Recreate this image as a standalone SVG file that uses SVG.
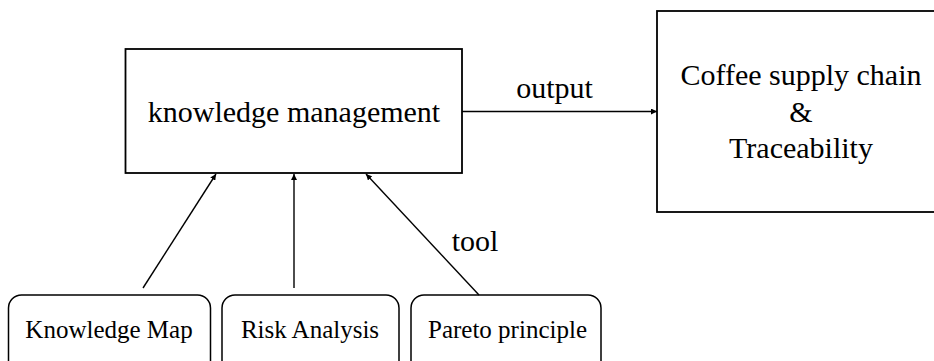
<svg xmlns="http://www.w3.org/2000/svg" width="934" height="361" viewBox="0 0 934 361">
<style>
.box{fill:#fff;stroke:#000;stroke-width:1.8}
.rbox{fill:#fff;stroke:#000;stroke-width:1.5}
.t{font-family:"Liberation Serif","Times New Roman",serif;fill:#000;text-anchor:middle}
.big{font-size:30px}
.small{font-size:25px}
.conn{stroke:#000;stroke-width:1.4;fill:none;marker-end:url(#ah)}
</style>
<defs>
<marker id="ah" viewBox="0 0 10 10" refX="10" refY="5" markerWidth="6" markerHeight="6" markerUnits="userSpaceOnUse" orient="auto">
<path d="M0,0 L10,5 L0,10 Z" fill="#000"/>
</marker>
</defs>
<rect width="934" height="361" fill="#fff"/>
<g id="km">
<rect class="box" x="125.5" y="49" width="336.5" height="124"/>
<text class="t big" x="294" y="122">knowledge management</text>
</g>
<g id="coffee">
<rect class="box" x="657" y="11" width="300" height="201"/>
<text class="t big" x="801" y="85">Coffee supply chain</text>
<text class="t big" x="801" y="122">&amp;</text>
<text class="t big" x="801" y="158">Traceability</text>
</g>
<g id="kmap">
<rect class="rbox" x="8.5" y="295" width="202" height="90" rx="13"/>
<text class="t small" x="109" y="338">Knowledge Map</text>
</g>
<g id="risk">
<rect class="rbox" x="222" y="295" width="177" height="90" rx="13"/>
<text class="t small" x="310" y="338">Risk Analysis</text>
</g>
<g id="pareto">
<rect class="rbox" x="411" y="295" width="190" height="90" rx="13"/>
<text class="t small" x="507.5" y="338">Pareto principle</text>
</g>
<g id="connectors">
<line class="conn" x1="462" y1="111.5" x2="657" y2="111.5"/>
<line class="conn" x1="143" y1="288" x2="216" y2="174"/>
<line class="conn" x1="294" y1="288" x2="294" y2="174"/>
<line class="conn" x1="479" y1="295" x2="366" y2="174"/>
<text class="t big" x="554.5" y="98">output</text>
<text class="t big" x="475" y="251">tool</text>
</g>
</svg>
